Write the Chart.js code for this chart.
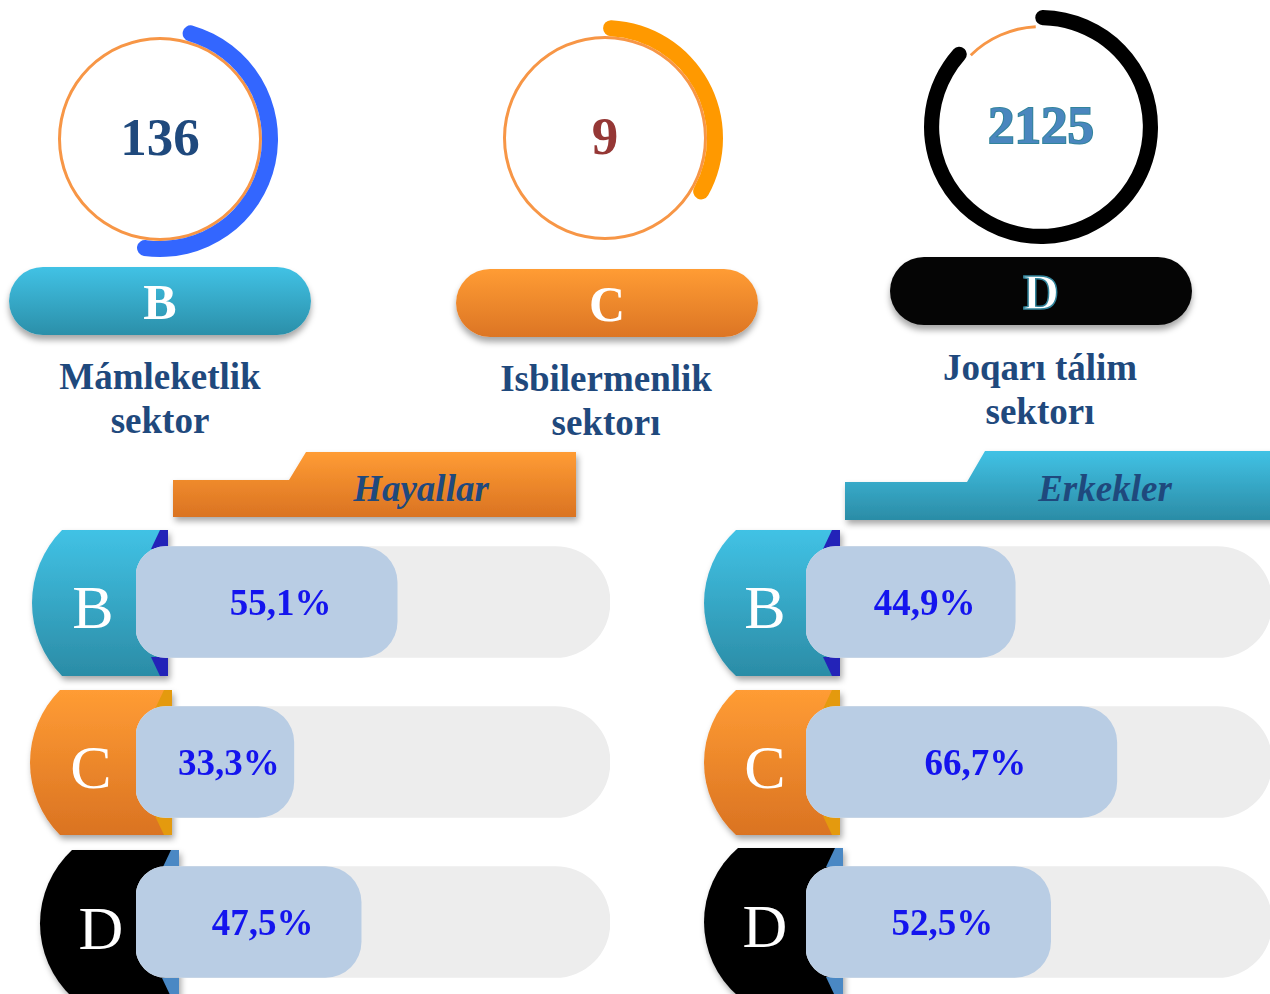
<!DOCTYPE html>
<html>
<head>
<meta charset="utf-8">
<script src="https://cdn.jsdelivr.net/npm/chart.js@4.4.0/dist/chart.umd.min.js"></script>
<style>
  html, body { margin: 0; padding: 0; background: #fff; overflow: hidden; }
  #page { position: relative; width: 1270px; height: 994px; overflow: hidden; font-family: 'Liberation Serif', 'Times New Roman', serif; }
  #deco { position: absolute; left: 0; top: 0; z-index: 1; }
  canvas { position: absolute; z-index: 2; }
  .pill { position: absolute; z-index: 2; width: 302px; height: 68px; border-radius: 34px; color: #fff; font-weight: bold; font-size: 50px; line-height: 70px; text-align: center; box-shadow: 0 5px 6px rgba(0,0,0,0.35); }
  .sector { position: absolute; z-index: 2; width: 320px; text-align: center; color: #1F497D; font-weight: bold; font-size: 37px; line-height: 44px; }
</style>
</head>
<body>
<div id="page">
  <svg id="deco" width="1270" height="994"></svg>
</div>
<script>
// top gauges
const sectorCodes = ['B', 'C', 'D'];
const sectorNames = ['Mámleketlik\nsektor', 'Isbilermenlik\nsektorı', 'Joqarı tálim\nsektorı'];
const sectorCounts = [136, 9, 2125];
const arcShare = [50, 34.5, 88.5]; // part of the ring that is filled

// bottom bars
const rowCodes = ['B', 'C', 'D'];
const womenShare = [55.1, 33.3, 47.5];
const menShare = [44.9, 66.7, 52.5];
const fullTrack = [100, 100, 100];

// look
const arcColors = ['#3366FF', '#FF9900', '#000000'];
const countColors = ['#1F497D', '#953735', '#4A86BE'];
const gaugeRotation = [12, -1, -3];
const ringHidden = [false, false, true]; // thin ring only shows in the gap on the last gauge
const gaugeCenters = [[160, 139], [605, 138], [1041, 127]];
const pillPos = [[9, 267], [456, 269], [890, 257]];
const pillBg = [
  'linear-gradient(#41C2E5, #2B8FA9)',
  'linear-gradient(#FF9C34, #DC7524)',
  '#050505'
];
const labelPos = [[160, 377], [606, 379], [1040, 368]];

const page = document.getElementById('page');

// ---- gauges ----
const centerText = {
  id: 'centerText',
  afterDraw(chart) {
    const i = chart.options.gaugeIndex;
    const a = chart.chartArea;
    const ctx = chart.ctx;
    ctx.save();
    ctx.font = 'bold 53px "Liberation Serif"';
    ctx.textAlign = 'center';
    ctx.textBaseline = 'middle';
    const x = (a.left + a.right) / 2, y = (a.top + a.bottom) / 2 + 2;
    if (i === 2) {
      ctx.lineWidth = 2;
      ctx.strokeStyle = '#31849B';
      ctx.strokeText(String(sectorCounts[i]), x, y);
    }
    ctx.fillStyle = countColors[i];
    ctx.fillText(String(sectorCounts[i]), x, y);
    ctx.restore();
  }
};

sectorCodes.forEach((code, i) => {
  const cv = document.createElement('canvas');
  cv.width = 240; cv.height = 240;
  cv.style.left = (gaugeCenters[i][0] - 120) + 'px';
  cv.style.top = (gaugeCenters[i][1] - 120) + 'px';
  page.appendChild(cv);
  const ring = ringHidden[i]
    ? { data: [arcShare[i], 100 - arcShare[i]], backgroundColor: ['rgba(0,0,0,0)', '#F79646'], rotation: gaugeRotation[i] }
    : { data: [100], backgroundColor: '#F79646' };
  new Chart(cv, {
    type: 'doughnut',
    data: {
      labels: ['share', 'rest'],
      datasets: [
        {
          data: [arcShare[i], 100 - arcShare[i]],
          backgroundColor: [arcColors[i], 'rgba(0,0,0,0)'],
          borderWidth: 0,
          borderRadius: 8,
          rotation: gaugeRotation[i],
          weight: 16
        },
        Object.assign({ borderWidth: 0, weight: 3 }, ring)
      ]
    },
    options: {
      gaugeIndex: i,
      responsive: false,
      animation: false,
      cutout: 99,
      layout: { padding: i === 2 ? 3 : 2 },
      plugins: { legend: { display: false }, tooltip: { enabled: false } }
    },
    plugins: [centerText]
  });

  const pill = document.createElement('div');
  pill.className = 'pill';
  pill.style.left = pillPos[i][0] + 'px';
  pill.style.top = pillPos[i][1] + 'px';
  pill.style.background = pillBg[i];
  pill.textContent = code;
  if (i === 2) pill.style.webkitTextStroke = '1.5px #31849B';
  page.appendChild(pill);

  const lab = document.createElement('div');
  lab.className = 'sector';
  lab.style.left = (labelPos[i][0] - 160) + 'px';
  lab.style.top = (labelPos[i][1] - 22) + 'px';
  lab.innerHTML = sectorNames[i].replace('\n', '<br>');
  page.appendChild(lab);
});

// ---- badges and tabs (svg) ----
const leftBadges = [
  { left: 32, top: 530, right: 168, bottom: 676, corner: 62 },
  { left: 30, top: 690, right: 172, bottom: 835, corner: 60 },
  { left: 40, top: 850, right: 179, bottom: 997, corner: 72 }
];
const rightBadges = [
  { left: 704, top: 530, right: 840, bottom: 676, corner: 736 },
  { left: 704, top: 690, right: 840, bottom: 835, corner: 736 },
  { left: 704, top: 848, right: 843, bottom: 996, corner: 738 }
];
const badgeFill = ['url(#gB)', 'url(#gC)', '#060606'];
const foldColor = ['#2323B8', '#E49A0E', '#4A88C4'];

function badgePath(b) {
  const h = b.bottom - b.top, s = b.corner - b.left;
  const r = (h * h) / (8 * s) + s / 2;
  return `M${b.corner},${b.top} L${b.right},${b.top} L${b.right},${b.bottom} L${b.corner},${b.bottom} A${r},${r} 0 0 1 ${b.corner},${b.top} Z`;
}

let svg = `
<defs>
  <linearGradient id="gB" x1="0" y1="0" x2="0" y2="1"><stop offset="0" stop-color="#41C2E5"/><stop offset="1" stop-color="#2B8CA6"/></linearGradient>
  <linearGradient id="gC" x1="0" y1="0" x2="0" y2="1"><stop offset="0" stop-color="#FF9C34"/><stop offset="1" stop-color="#DA7322"/></linearGradient>
  <filter id="sh" x="-20%" y="-20%" width="140%" height="150%"><feDropShadow dx="2" dy="4" stdDeviation="3" flood-color="#000" flood-opacity="0.35"/></filter>
</defs>
<polygon points="173,480 289,480 306,452 576,452 576,517 173,517" fill="url(#gC)" filter="url(#sh)"/>
<text x="421" y="488" text-anchor="middle" dominant-baseline="central" font-family="Liberation Serif" font-style="italic" font-weight="bold" font-size="37" fill="#1F497D">Hayallar</text>
<polygon points="845,482 967,482 985,451 1280,451 1280,520 845,520" fill="url(#gB)" filter="url(#sh)"/>
<text x="1105" y="488" text-anchor="middle" dominant-baseline="central" font-family="Liberation Serif" font-style="italic" font-weight="bold" font-size="37" fill="#1F497D">Erkekler</text>
`;
[leftBadges, rightBadges].forEach(group => {
  group.forEach((b, i) => {
    svg += `<path d="${badgePath(b)}" fill="${badgeFill[i]}" filter="url(#sh)"/>`;
    svg += `<polygon points="${b.right - 8},${b.top} ${b.right},${b.top} ${b.right},${b.top + 19} ${b.right - 17},${b.top + 19}" fill="${foldColor[i]}"/>`;
    svg += `<polygon points="${b.right - 8},${b.bottom} ${b.right},${b.bottom} ${b.right},${b.bottom - 19} ${b.right - 17},${b.bottom - 19}" fill="${foldColor[i]}"/>`;
    svg += `<text x="${b.left + 61}" y="${(b.top + b.bottom) / 2 + 4}" text-anchor="middle" dominant-baseline="central" font-family="Liberation Serif" font-size="62" fill="#fff">${rowCodes[i]}</text>`;
  });
});
document.getElementById('deco').innerHTML = svg;

// ---- share bars ----
const pctLabels = {
  id: 'pctLabels',
  afterDatasetsDraw(chart) {
    const meta = chart.getDatasetMeta(0);
    const vals = chart.data.datasets[0].data;
    const ctx = chart.ctx;
    ctx.save();
    ctx.font = 'bold 37px "Liberation Serif"';
    ctx.fillStyle = '#1414EE';
    ctx.textAlign = 'center';
    ctx.textBaseline = 'middle';
    meta.data.forEach((bar, i) => {
      ctx.fillText(vals[i].toFixed(1).replace('.', ',') + '%', (bar.x + bar.base) / 2 + 14, bar.y + 3);
    });
    ctx.restore();
  }
};

function shareChart(left, width, values) {
  const cv = document.createElement('canvas');
  cv.width = width; cv.height = 480;
  cv.style.left = left + 'px';
  cv.style.top = '522px';
  page.appendChild(cv);
  return new Chart(cv, {
    type: 'bar',
    data: {
      labels: rowCodes,
      datasets: [
        {
          data: values,
          backgroundColor: '#B9CDE4',
          order: 0,
          grouped: false,
          barThickness: 111,
          borderWidth: 0,
          borderSkipped: false,
          borderRadius: { topLeft: 30, bottomLeft: 30, topRight: 36, bottomRight: 36 }
        },
        {
          data: fullTrack,
          backgroundColor: '#EDEDED',
          order: 1,
          grouped: false,
          barThickness: 111,
          borderWidth: 0,
          borderSkipped: false,
          borderRadius: { topLeft: 30, bottomLeft: 30, topRight: 55, bottomRight: 55 }
        }
      ]
    },
    options: {
      indexAxis: 'y',
      responsive: false,
      animation: false,
      layout: { padding: 0 },
      scales: {
        x: { min: 0, max: 100, display: false },
        y: { display: false }
      },
      plugins: { legend: { display: false }, tooltip: { enabled: false } }
    },
    plugins: [pctLabels]
  });
}

shareChart(136, 474, womenShare);
shareChart(806, 466, menShare);
</script>
</body>
</html>
